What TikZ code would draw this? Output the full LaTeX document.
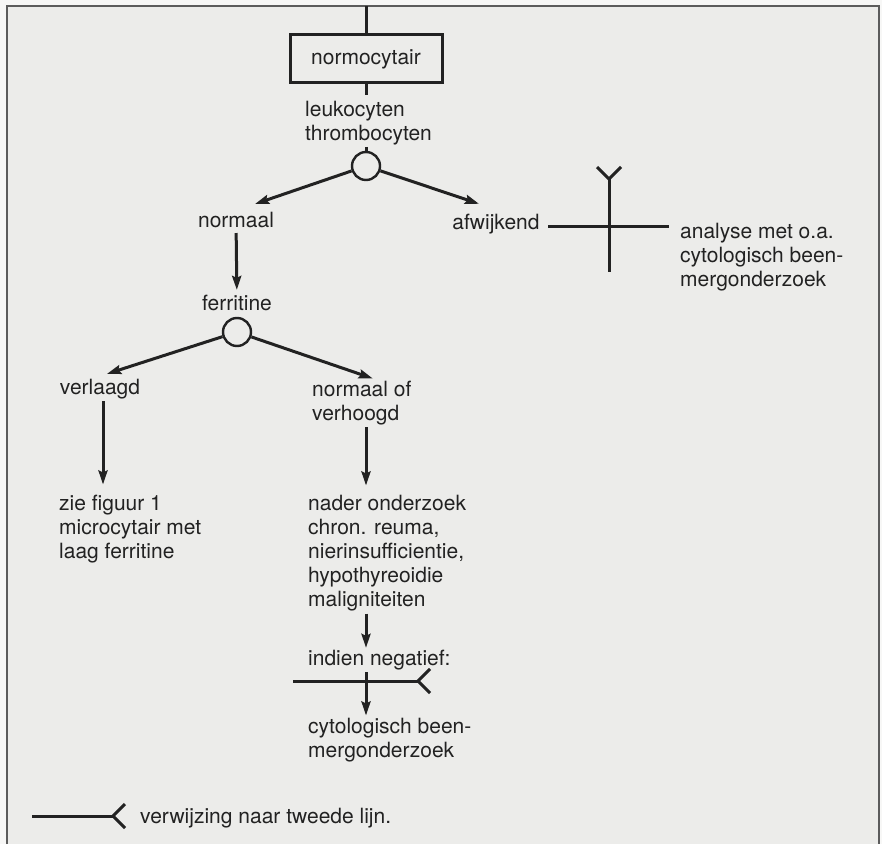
\documentclass[tikz,border=0pt]{standalone}
\usepackage{fontspec}
\setmainfont{TeX Gyre Heros}
\usetikzlibrary{arrows.meta,positioning,calc}
\definecolor{SCPaper}{HTML}{ECECEA}
\definecolor{SCMargin}{HTML}{F7F7F6}
\definecolor{SCInk}{HTML}{222222}
\definecolor{SCFrame}{HTML}{5C5C5C}
\tikzset{
  wire/.style={SCInk,line width=3pt},
  flow/.style={wire,-{Stealth[length=14pt,width=9pt,inset=2pt]}},
  txt/.style={text=SCInk,font=\fontsize{21}{24.2}\selectfont,inner sep=2pt,align=left},
  boxed/.style={txt,draw=SCInk,line width=3pt,minimum width=152pt,minimum height=48pt,align=center},
  knot/.style={circle,draw=SCInk,line width=2.4pt,minimum size=28pt,inner sep=0pt},
  fork/.pic={\draw[wire] (0,0) -- (12,12) (0,0) -- (12,-12);},
}
\begin{document}
\begin{tikzpicture}[x=1pt,y=1pt]
    \useasboundingbox (0,0) rectangle (882,844);
    % paper and frame
    \fill[SCMargin] (0,0) rectangle (882,844);
    \fill[SCPaper] (7,0) rectangle (879,838);
    \draw[SCFrame,line width=2.6pt] (7,0) -- (7,838) -- (879,838) -- (879,0);

    % --- top of the tree ---
    \coordinate (entry) at (366,838);
    \node[boxed] (normo) at (366,785) {normocytair};
    \node[txt,anchor=north west] (cells) at (303,745.5) {leukocyten\\thrombocyten};
    \node[knot] (c1) at (366,678) {};
    \node[txt] (normaal) at (236,624) {normaal};
    \node[txt] (afwijkend) at (496,620) {afwijkend};
    \node[txt,anchor=north west] (analyse) at (678,623.5)
      {analyse met o.a.\\cytologisch been-\\mergonderzoek};

    % --- ferritine branch ---
    \node[txt] (ferritine) at (237,541) {ferritine};
    \node[knot] (c2) at (237,512) {};
    \node[txt] (verlaagd) at (100,455) {verlaagd};
    \node[txt,anchor=north west] (normverh) at (310,465.5) {normaal of\\verhoogd};
    \node[txt,anchor=north west] (zie) at (57,351.5)
      {zie figuur 1\\microcytair met\\laag ferritine};
    \node[txt,anchor=north west] (nader) at (306,351.5)
      {nader onderzoek\\chron. reuma,\\nierinsufficientie,\\hypothyreoidie\\maligniteiten};
    \node[txt,anchor=west] (negatief) at (306,184) {indien negatief:};
    \node[txt,anchor=north west] (beenmerg) at (306,128.5)
      {cytologisch been-\\mergonderzoek};

    % --- connectors ---
    \draw[wire] (entry) -- (normo.north);
    \draw[wire,shorten >=3pt] (normo.south) -- (cells.north -| normo);
    \draw[wire] (cells.south -| c1) -- (c1.north);
    \draw[flow] (c1) -- ([xshift=19pt,yshift=6pt]normaal.north);
    \draw[flow] (c1) -- ([xshift=-17pt,yshift=8pt]afwijkend.north);
    \draw[flow,shorten <=3pt,shorten >=3pt] (normaal) -- (ferritine);
    \draw[flow] (c2) -- ([xshift=7pt,yshift=3pt]verlaagd.north);
    \draw[flow] (c2) -- ([xshift=11pt]normverh.north);
    \draw[flow,shorten >=8pt] ([xshift=3pt]verlaagd.south) -- ([xshift=3pt]verlaagd.south |- zie.north);
    \draw[flow,shorten >=7pt] (normverh.south -| c1) -- (nader.north -| c1);
    \draw[flow] (nader.south -| c1) -- (negatief.north -| c1);
    \draw[flow] (negatief.south -| c1) -- (beenmerg.north -| c1);

    % --- referral bars ---
    \coordinate (devL) at (548,617);
    \coordinate (devR) at (669,617);
    \coordinate (devB) at (609,572);
    \coordinate (devT) at (609,665);
    \draw[wire] (devL) -- (devR);
    \draw[wire] (devB) -- (devT) pic[rotate=90] {fork};
    \coordinate (negL) at (293,163);
    \coordinate (negR) at (418,163);
    \draw[wire] (negL) -- (negR) pic {fork};

    % --- legend ---
    \coordinate (keyL) at (32,28);
    \coordinate (keyR) at (113,28);
    \draw[wire] (keyL) -- (keyR) pic {fork};
    \node[txt,anchor=west] (keytext) at (138,26) {verwijzing naar tweede lijn.};
  \end{tikzpicture}
\end{document}
